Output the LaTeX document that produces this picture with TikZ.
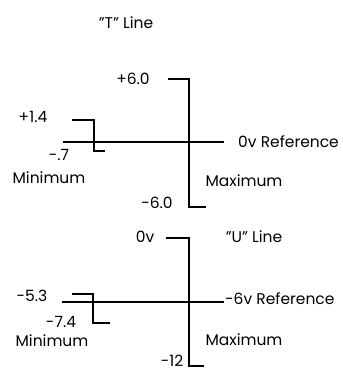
\documentclass[tikz,border=0pt]{standalone}
\usepackage{fontspec}
\setmainfont{Poppins}
\usetikzlibrary{positioning}
\tikzset{
  lbl/.style  = {font=\fontsize{15.5}{16}\selectfont, inner sep=0pt},
  wave/.style = {line width=1.5pt, draw=black},
  ref/.style  = {line width=1.3pt, draw=black},
}
\begin{document}
\begin{tikzpicture}[x=1pt,y=-1pt]
  \useasboundingbox (0,0) rectangle (342,371);
  % "T" line
  \node[lbl] (tline) at (126,23) {\symbol{34}T\symbol{34} Line};
  \coordinate (tmaxa) at (168,79);  \coordinate (tmaxb) at (189,79);
  \coordinate (tmaxc) at (189,207); \coordinate (tmaxd) at (206,207);
  \coordinate (tmina) at (72,120);  \coordinate (tminb) at (94,120);
  \coordinate (tminc) at (94,151);  \coordinate (tmind) at (105,151);
  \coordinate (trefa) at (63,142);  \coordinate (trefb) at (224,142);
  \node[lbl] (tpos) at (133,79) {+6.0};
  \node[lbl] (tneg) at (157,203) {-6.0};
  \node[lbl] (tminpos) at (33,117) {+1.4};
  \node[lbl] (tminneg) at (59,155) {-.7};
  \node[lbl] (tminlbl) at (49,178) {Minimum};
  \node[lbl] (tmaxlbl) at (244,181) {Maximum};
  \node[lbl, anchor=west] (treflbl) at (238,142) {0v Reference};
  \draw[ref] (trefa) -- (trefb);
  \draw[wave] (tmaxa) -- (tmaxb) -- (tmaxc) -- (tmaxd);
  \draw[wave] (tmina) -- (tminb) -- (tminc) -- (tmind);
  % "U" line
  \node[lbl] (uline) at (254,237) {\symbol{34}U\symbol{34} Line};
  \coordinate (umaxa) at (166,238); \coordinate (umaxb) at (189,238);
  \coordinate (umaxc) at (189,366); \coordinate (umaxd) at (204,366);
  \coordinate (umina) at (72,294);  \coordinate (uminb) at (93,294);
  \coordinate (uminc) at (93,323);  \coordinate (umind) at (110,323);
  \coordinate (urefa) at (62,302);  \coordinate (urefb) at (224,302);
  \node[lbl] (upos) at (145,237) {0v};
  \node[lbl] (uneg) at (172,361) {-12};
  \node[lbl] (uminpos) at (32,296) {-5.3};
  \node[lbl] (uminneg) at (61,322) {-7.4};
  \node[lbl] (uminlbl) at (52,341) {Minimum};
  \node[lbl] (umaxlbl) at (244,340) {Maximum};
  \node[lbl, anchor=west] (ureflbl) at (225,299) {-6v Reference};
  \draw[ref] (urefa) -- (urefb);
  \draw[wave] (umaxa) -- (umaxb) -- (umaxc) -- (umaxd);
  \draw[wave] (umina) -- (uminb) -- (uminc) -- (umind);
\end{tikzpicture}
\end{document}
